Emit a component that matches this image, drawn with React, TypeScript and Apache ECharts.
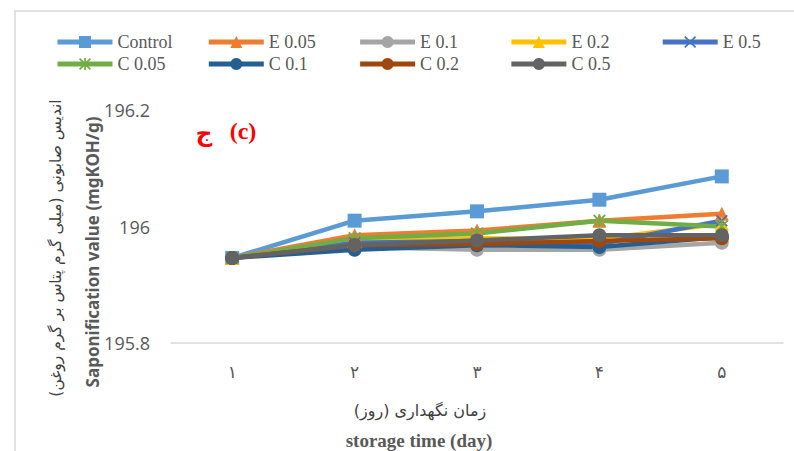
import React, { useEffect, useRef } from "react";
import * as echarts from "echarts";

const days = ["۱", "۲", "۳", "۴", "۵"];
const seriesNames = ["Control", "E 0.05", "E 0.1", "E 0.2", "E 0.5", "C 0.05", "C 0.1", "C 0.2", "C 0.5"];
const control = [195.946, 196.01, 196.026, 196.046, 196.086];
const e005 = [195.946, 195.985, 195.993, 196.01, 196.022];
const e01 = [195.946, 195.965, 195.96, 195.96, 195.972];
const e02 = [195.946, 195.975, 195.98, 195.978, 196.005];
const e05 = [195.946, 195.972, 195.975, 195.97, 196.01];
const c005 = [195.946, 195.98, 195.988, 196.01, 196.0];
const c01 = [195.946, 195.96, 195.968, 195.965, 195.982];
const c02 = [195.946, 195.968, 195.97, 195.975, 195.98];
const c05 = [195.946, 195.968, 195.976, 195.985, 195.985];
const yTicks = { min: 195.8, max: 196.2, interval: 0.2 };

const colors = ["#5B9BD5", "#ED7D31", "#A5A5A5", "#FFC000", "#4472C4", "#70AD47", "#255E91", "#9E480E", "#636363"];
const xPath = "path://M0,1 L1,0 L5,4 L9,0 L10,1 L6,5 L10,9 L9,10 L5,6 L1,10 L0,9 L4,5 Z";
const starPath = "path://M0,1 L1,0 L5,4 L9,0 L10,1 L6,5 L10,9 L9,10 L5,6 L1,10 L0,9 L4,5 Z M4.3,0 L5.7,0 L5.7,10 L4.3,10 Z";
const symbols = ["rect", "triangle", "circle", "triangle", xPath, starPath, "circle", "circle", "circle"];
const symbolSizes = [14, 14, 14, 14, 12, 13, 14, 14, 14];
const allData = [control, e005, e01, e02, e05, c005, c01, c02, c05];

export default function App() {
  const ref = useRef<HTMLDivElement>(null);
  useEffect(() => {
    if (!ref.current) return;
    const chart = echarts.init(ref.current, null, { renderer: "svg" });
    const legendText = { color: "#595959", fontSize: 18, fontFamily: "Liberation Serif" };
    const legends = seriesNames.map((name, i) => {
      const row = i < 5 ? 0 : 1;
      const col = i < 5 ? i : i - 5;
      return {
        data: [name],
        left: 55 + col * 151.3,
        top: row === 0 ? 33 : 55,
        padding: 0,
        itemWidth: 55,
        itemHeight: 15,
        itemGap: 0,
        textStyle: legendText,
        lineStyle: { width: 5 },
      };
    });
    chart.setOption({
      animation: false,
      backgroundColor: "#ffffff",
      grid: { left: 171, right: 11, top: 110, bottom: 108, containLabel: false },
      legend: legends,
      xAxis: {
        type: "category",
        data: days,
        boundaryGap: true,
        axisLine: { lineStyle: { color: "#d9d9d9", width: 1.5 } },
        axisTick: { show: false },
        axisLabel: { color: "#595959", fontSize: 17, fontFamily: "DejaVu Sans", margin: 20 },
        splitLine: { show: false },
      },
      yAxis: {
        type: "value",
        min: yTicks.min,
        max: yTicks.max,
        interval: yTicks.interval,
        axisLine: { show: false },
        axisTick: { show: false },
        splitLine: { show: false },
        axisLabel: {
          color: "#595959",
          fontSize: 18,
          fontFamily: "Open Sans",
          margin: 21,
          formatter: (v: number) => String(Math.round(v * 10) / 10),
        },
      },
      series: seriesNames.map((name, i) => ({
        name,
        type: "line",
        data: allData[i],
        symbol: symbols[i],
        symbolSize: symbolSizes[i],
        showSymbol: true,
        lineStyle: { color: colors[i], width: 4.5 },
        itemStyle: { color: colors[i] },
        emphasis: { disabled: true },
      })),
      graphic: [
        {
          type: "rect",
          shape: { x: 15, y: 11, width: 800, height: 500 },
          style: { fill: "none", stroke: "#d9d9d9", lineWidth: 1.5 },
          silent: true,
        },
        {
          type: "text",
          x: 92,
          y: 252,
          rotation: Math.PI / 2,
          style: {
            text: "Saponification value (mgKOH/g)",
            fill: "#595959",
            font: "bold 17px 'Noto Sans'",
            align: "center",
            verticalAlign: "middle",
          },
        },
        {
          type: "text",
          x: 56,
          y: 248,
          rotation: Math.PI / 2,
          style: {
            text: "اندیس صابونی (میلی گرم پتاس بر گرم روغن)",
            fill: "#404040",
            font: "15.5px 'DejaVu Sans'",
            align: "center",
            verticalAlign: "middle",
          },
        },
        {
          type: "text",
          x: 420,
          y: 410,
          style: {
            text: "زمان نگهداری (روز)",
            fill: "#404040",
            font: "16px 'DejaVu Sans'",
            align: "center",
            verticalAlign: "middle",
          },
        },
        {
          type: "text",
          x: 419,
          y: 440,
          style: {
            text: "storage time (day)",
            fill: "#595959",
            font: "bold 19px 'Liberation Serif'",
            align: "center",
            verticalAlign: "middle",
          },
        },
        {
          type: "text",
          x: 204,
          y: 133,
          style: {
            text: "ج",
            fill: "#ff0000",
            font: "bold 23px 'DejaVu Sans'",
            align: "center",
            verticalAlign: "middle",
          },
        },
        {
          type: "text",
          x: 243,
          y: 131,
          style: {
            text: "(c)",
            fill: "#ff0000",
            font: "bold 24px 'Liberation Serif'",
            align: "center",
            verticalAlign: "middle",
          },
        },
      ],
    });
    return () => chart.dispose();
  }, []);
  return <div ref={ref} style={{ position: "fixed", left: 0, top: 0, width: 794, height: 451 }} />;
}
